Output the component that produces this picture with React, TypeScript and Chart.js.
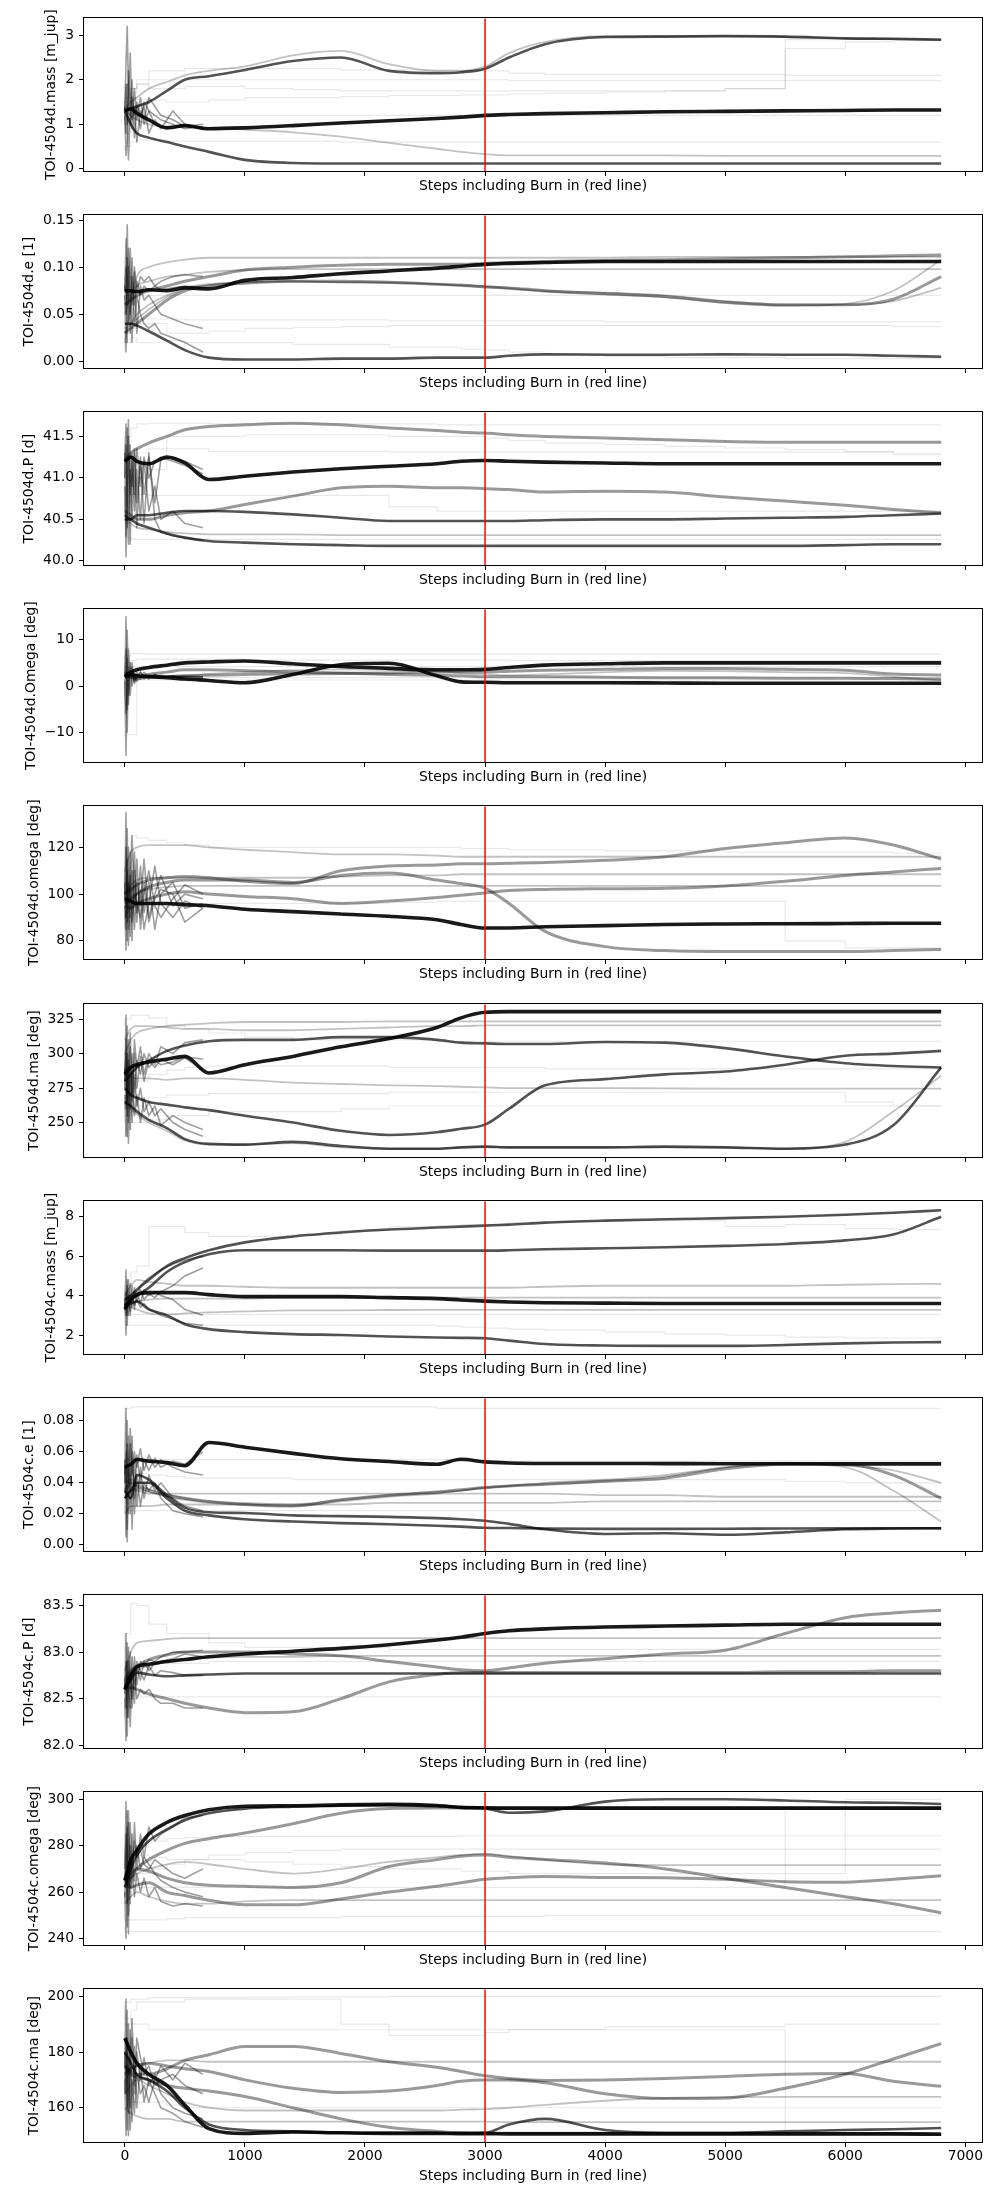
import React, { useEffect, useRef } from "react";
import { Chart, registerables } from "chart.js";

Chart.register(...registerables);

const FONT = "'DejaVu Sans', sans-serif";
const FS = 13.9;
Chart.defaults.font.family = FONT;
Chart.defaults.color = "#000";

// ---------- shared axes data ----------
const STEPS = [0, 50, 100, 200, 350, 500, 700, 1000, 1400, 1800, 2200, 2600, 2800, 3000, 3200, 3500, 4000, 4500, 5000, 5500, 6000, 6400, 6799];
const EARLY_STEPS = [0, 10, 20, 30, 45, 60, 80, 100, 130, 160, 200, 250, 300, 400, 500, 650];
const BURN_IN = 3000;
const X_TICKS = [0, 1000, 2000, 3000, 4000, 5000, 6000, 7000];
const X_MIN = -340;
const X_MAX = 7139;
const X_LABEL = "Steps including Burn in (red line)";

// ---------- panel 1: TOI-4504d.mass ----------
const D_MASS_TICKS = [0, 1, 2, 3];
const D_MASS_CORE = [1.3, 1.35, 1.25, 1.1, 0.92, 0.97, 0.9, 0.92, 0.97, 1.03, 1.08, 1.13, 1.16, 1.2, 1.22, 1.24, 1.26, 1.28, 1.29, 1.3, 1.31, 1.32, 1.32];
const D_MASS_UP1 = [1.3, 1.35, 1.4, 1.5, 1.75, 2.0, 2.08, 2.22, 2.42, 2.5, 2.2, 2.15, 2.17, 2.25, 2.5, 2.8, 2.96, 2.97, 2.98, 2.97, 2.93, 2.92, 2.9];
const D_MASS_UP2 = [1.3, 1.5, 1.6, 1.8, 1.95, 2.1, 2.2, 2.3, 2.55, 2.65, 2.35, 2.2, 2.2, 2.3, 2.6, 2.85, 2.98, 2.98, 2.98, 2.96, 2.93, 2.91, 2.9];
const D_MASS_DESC = [1.3, 1.2, 1.1, 1.0, 0.95, 0.95, 0.92, 0.88, 0.82, 0.72, 0.58, 0.45, 0.38, 0.33, 0.3, 0.3, 0.3, 0.3, 0.29, 0.29, 0.29, 0.29, 0.29];
const D_MASS_LOW = [1.3, 1.0, 0.8, 0.7, 0.6, 0.5, 0.38, 0.2, 0.13, 0.12, 0.12, 0.12, 0.12, 0.12, 0.12, 0.12, 0.12, 0.12, 0.12, 0.12, 0.12, 0.12, 0.12];
const D_MASS_F1 = [1.0, 1.5, 1.7, 1.9, 2.0, 2.0, 2.0, 2.0, 2.0, 2.0, 2.0, 2.0, 2.0, 2.0, 2.0, 1.98, 1.98, 1.98, 1.98, 1.98, 1.98, 1.98, 1.98];
const D_MASS_F2 = [1.5, 1.6, 1.6, 1.55, 1.55, 1.5, 1.5, 1.55, 1.6, 1.6, 1.62, 1.65, 1.65, 1.66, 1.66, 1.68, 1.7, 1.72, 1.75, 1.8, 2.9, 2.92, 2.92];
const D_MASS_F3 = [1.0, 1.3, 1.8, 2.0, 2.2, 2.2, 2.25, 2.25, 2.25, 2.25, 2.22, 2.22, 2.22, 2.2, 2.2, 2.15, 2.12, 2.12, 2.12, 2.12, 2.1, 2.1, 2.1];
const D_MASS_F4 = [0.4, 0.5, 0.6, 0.65, 0.65, 0.62, 0.62, 0.62, 0.62, 0.62, 0.6, 0.6, 0.6, 0.6, 0.6, 0.6, 0.6, 0.6, 0.6, 0.6, 0.6, 0.6, 0.6];
const D_MASS_F5 = [1.3, 1.1, 1.25, 1.2, 1.2, 1.2, 1.2, 1.2, 1.2, 1.2, 1.2, 1.2, 1.2, 1.2, 1.2, 1.2, 1.2, 1.2, 1.2, 1.2, 1.2, 1.2, 1.2];
const D_MASS_F6 = [0.8, 1.4, 1.8, 1.9, 1.8, 1.8, 1.85, 1.85, 1.8, 1.78, 1.75, 1.75, 1.75, 1.75, 1.75, 1.75, 1.75, 1.75, 1.75, 1.8, 2.7, 2.85, 2.88];
const D_MASS_N1 = [1.3, 2.4, 3.2, 1.8, 1.0, 1.6, 1.2, 1.4, 0.9, 1.5, 1.3, 1.0, 0.95, 0.9, 1.0, 0.9];
const D_MASS_N2 = [1.2, 0.3, 0.6, 2.2, 1.5, 0.9, 1.8, 1.1, 1.6, 1.0, 1.3, 1.2, 1.1, 1.0, 0.9, 0.95];
const D_MASS_N3 = [1.4, 0.8, 1.9, 0.2, 1.2, 2.0, 0.7, 1.5, 1.2, 1.4, 0.8, 1.1, 0.9, 1.3, 1.0, 0.9];
const D_MASS_N4 = [1.3, 1.9, 1.0, 1.5, 2.6, 1.1, 1.4, 0.6, 1.3, 1.1, 1.6, 1.4, 1.2, 1.1, 0.95, 1.0];

// ---------- panel 2: TOI-4504d.e ----------
const D_E_TICKS = [0, 0.05, 0.1, 0.15];
const D_E_CORE = [0.075, 0.075, 0.074, 0.076, 0.075, 0.078, 0.077, 0.086, 0.089, 0.093, 0.096, 0.099, 0.101, 0.103, 0.104, 0.105, 0.106, 0.106, 0.106, 0.106, 0.106, 0.106, 0.106];
const D_E_UP = [0.06, 0.065, 0.07, 0.075, 0.08, 0.085, 0.09, 0.097, 0.1, 0.102, 0.103, 0.103, 0.103, 0.104, 0.105, 0.106, 0.107, 0.108, 0.109, 0.11, 0.111, 0.112, 0.113];
const D_E_MID = [0.03, 0.035, 0.04, 0.05, 0.065, 0.075, 0.08, 0.083, 0.085, 0.085, 0.084, 0.082, 0.081, 0.079, 0.078, 0.075, 0.072, 0.069, 0.063, 0.06, 0.06, 0.066, 0.09];
const D_E_MID2 = [0.035, 0.04, 0.045, 0.055, 0.068, 0.077, 0.081, 0.084, 0.085, 0.084, 0.083, 0.082, 0.08, 0.079, 0.077, 0.074, 0.071, 0.068, 0.062, 0.059, 0.061, 0.075, 0.108];
const D_E_MID3 = [0.03, 0.04, 0.05, 0.06, 0.07, 0.078, 0.082, 0.084, 0.085, 0.084, 0.084, 0.082, 0.081, 0.08, 0.078, 0.075, 0.073, 0.07, 0.064, 0.06, 0.06, 0.064, 0.078];
const D_E_BOT = [0.04, 0.04, 0.038, 0.032, 0.022, 0.012, 0.004, 0.002, 0.002, 0.003, 0.003, 0.004, 0.004, 0.004, 0.006, 0.0075, 0.007, 0.007, 0.0075, 0.007, 0.007, 0.006, 0.005];
const D_E_F1 = [0.02, 0.06, 0.09, 0.1, 0.105, 0.108, 0.11, 0.11, 0.11, 0.11, 0.11, 0.11, 0.11, 0.11, 0.11, 0.11, 0.11, 0.111, 0.111, 0.111, 0.111, 0.111, 0.111];
const D_E_F2 = [0.05, 0.07, 0.08, 0.085, 0.09, 0.092, 0.095, 0.097, 0.098, 0.098, 0.098, 0.098, 0.098, 0.098, 0.098, 0.098, 0.098, 0.098, 0.098, 0.098, 0.098, 0.098, 0.098];
const D_E_F3 = [0.06, 0.07, 0.068, 0.07, 0.07, 0.07, 0.07, 0.07, 0.07, 0.07, 0.07, 0.07, 0.07, 0.07, 0.07, 0.07, 0.07, 0.07, 0.07, 0.07, 0.07, 0.07, 0.07];
const D_E_F4 = [0.03, 0.035, 0.04, 0.045, 0.045, 0.045, 0.044, 0.044, 0.044, 0.044, 0.044, 0.043, 0.043, 0.043, 0.043, 0.043, 0.043, 0.042, 0.042, 0.042, 0.042, 0.042, 0.042];
const D_E_F5 = [0.02, 0.03, 0.035, 0.04, 0.04, 0.03, 0.03, 0.032, 0.035, 0.036, 0.037, 0.038, 0.038, 0.038, 0.038, 0.038, 0.038, 0.038, 0.038, 0.038, 0.038, 0.038, 0.037];
const D_E_F6 = [0.01, 0.02, 0.025, 0.02, 0.02, 0.022, 0.02, 0.02, 0.02, 0.018, 0.018, 0.015, 0.015, 0.013, 0.012, 0.01, 0.008, 0.005, 0.004, 0.004, 0.003, 0.003, 0.003];
const D_E_N1 = [0.075, 0.13, 0.02, 0.1, 0.05, 0.09, 0.06, 0.085, 0.07, 0.08, 0.075, 0.08, 0.076, 0.078, 0.08, 0.078];
const D_E_N2 = [0.07, 0.01, 0.11, 0.04, 0.12, 0.06, 0.095, 0.03, 0.08, 0.065, 0.07, 0.06, 0.05, 0.045, 0.04, 0.035];
const D_E_N3 = [0.08, 0.05, 0.145, 0.07, 0.03, 0.11, 0.04, 0.07, 0.05, 0.04, 0.035, 0.04, 0.03, 0.025, 0.02, 0.01];
const D_E_N4 = [0.075, 0.1, 0.06, 0.12, 0.08, 0.02, 0.1, 0.075, 0.09, 0.085, 0.09, 0.08, 0.085, 0.09, 0.092, 0.09];

// ---------- panel 3: TOI-4504d.P ----------
const D_P_TICKS = [40.0, 40.5, 41.0, 41.5];
const D_P_CORE = [41.2, 41.25, 41.2, 41.17, 41.25, 41.18, 40.98, 41.02, 41.07, 41.11, 41.14, 41.17, 41.2, 41.21, 41.2, 41.19, 41.18, 41.17, 41.17, 41.17, 41.17, 41.17, 41.17];
const D_P_UP = [41.2, 41.3, 41.35, 41.42, 41.5, 41.58, 41.62, 41.64, 41.66, 41.64, 41.6, 41.57, 41.55, 41.54, 41.52, 41.5, 41.48, 41.46, 41.44, 41.43, 41.43, 41.43, 41.43];
const D_P_MID = [40.6, 40.55, 40.5, 40.5, 40.55, 40.58, 40.6, 40.68, 40.78, 40.88, 40.9, 40.88, 40.88, 40.87, 40.86, 40.83, 40.84, 40.83, 40.77, 40.72, 40.67, 40.62, 40.58];
const D_P_LOW = [40.5, 40.5, 40.55, 40.55, 40.58, 40.6, 40.6, 40.59, 40.56, 40.52, 40.48, 40.48, 40.48, 40.48, 40.48, 40.49, 40.5, 40.5, 40.51, 40.52, 40.53, 40.55, 40.57];
const D_P_BOT = [40.55, 40.5, 40.45, 40.4, 40.33, 40.28, 40.24, 40.22, 40.2, 40.19, 40.18, 40.18, 40.18, 40.18, 40.18, 40.18, 40.18, 40.18, 40.18, 40.18, 40.19, 40.2, 40.2];
const D_P_F1 = [41.0, 41.5, 41.6, 41.65, 41.66, 41.66, 41.66, 41.65, 41.65, 41.65, 41.65, 41.65, 41.64, 41.64, 41.64, 41.64, 41.64, 41.64, 41.64, 41.64, 41.64, 41.64, 41.64];
const D_P_F2 = [41.0, 41.2, 41.25, 41.3, 41.35, 41.35, 41.35, 41.32, 41.32, 41.32, 41.32, 41.31, 41.31, 41.31, 41.31, 41.31, 41.31, 41.31, 41.31, 41.31, 41.31, 41.31, 41.3];
const D_P_F3 = [40.6, 40.7, 40.8, 40.8, 40.79, 40.79, 40.79, 40.79, 40.79, 40.79, 40.79, 40.65, 40.6, 40.6, 40.6, 40.6, 40.6, 40.6, 40.6, 40.6, 40.6, 40.6, 40.6];
const D_P_F4 = [40.5, 40.45, 40.4, 40.38, 40.35, 40.33, 40.32, 40.32, 40.32, 40.31, 40.31, 40.31, 40.31, 40.31, 40.31, 40.31, 40.31, 40.31, 40.31, 40.31, 40.31, 40.31, 40.31];
const D_P_F5 = [40.3, 40.28, 40.26, 40.26, 40.26, 40.26, 40.26, 40.26, 40.26, 40.26, 40.26, 40.26, 40.26, 40.26, 40.26, 40.26, 40.26, 40.26, 40.26, 40.26, 40.26, 40.26, 40.26];
const D_P_F6 = [41.4, 41.0, 40.9, 41.0, 41.1, 41.5, 41.5, 41.5, 41.52, 41.52, 41.52, 41.5, 41.5, 41.5, 41.48, 41.45, 41.42, 41.4, 41.38, 41.36, 41.34, 41.32, 41.28];
const D_P_N1 = [41.2, 41.65, 40.4, 41.5, 40.8, 41.3, 40.6, 41.1, 40.5, 41.2, 40.6, 40.9, 40.5, 40.6, 40.45, 40.4];
const D_P_N2 = [40.9, 40.3, 41.6, 40.6, 41.4, 40.5, 41.3, 40.4, 41.25, 40.45, 41.3, 40.5, 40.35, 40.3, 40.28, 40.25];
const D_P_N3 = [41.3, 40.05, 41.0, 41.7, 40.2, 41.2, 40.8, 41.35, 40.9, 41.25, 41.0, 41.2, 41.25, 41.2, 41.15, 41.05];
const D_P_N4 = [41.0, 41.4, 40.7, 40.2, 41.1, 40.9, 41.35, 40.7, 41.2, 40.8, 41.25, 40.7, 41.22, 41.25, 41.2, 41.1];

// ---------- panel 4: TOI-4504d.Omega ----------
const D_OM_TICKS = [-10, 0, 10];
const D_OM_A = [2.0, 2.5, 2.2, 2.0, 1.8, 1.5, 1.2, 0.7, 2.5, 4.6, 4.9, 2.2, 0.9, 0.8, 0.7, 0.7, 0.7, 0.65, 0.6, 0.6, 0.6, 0.6, 0.6];
const D_OM_B = [2.0, 3.0, 3.5, 4.0, 4.5, 5.0, 5.2, 5.4, 4.8, 4.2, 3.8, 3.5, 3.5, 3.6, 4.0, 4.5, 4.8, 5.0, 5.0, 5.0, 5.0, 5.0, 5.0];
const D_OM_C = [3.0, 2.0, 1.5, 2.0, 2.0, 2.2, 2.3, 2.5, 2.6, 2.7, 2.8, 3.0, 3.0, 3.0, 3.2, 3.4, 3.6, 3.8, 3.8, 3.6, 3.4, 2.6, 2.4];
const D_OM_D = [2.5, 1.8, 2.0, 2.5, 3.0, 3.5, 3.5, 3.3, 3.0, 2.8, 2.5, 2.3, 2.2, 2.0, 2.0, 2.0, 1.9, 1.8, 1.8, 1.7, 1.7, 1.6, 1.5];
const D_OM_E = [3.0, 2.5, 2.3, 2.1, 2.2, 2.3, 2.6, 3.0, 3.4, 3.6, 3.5, 3.2, 2.8, 2.5, 2.3, 2.5, 3.0, 3.3, 3.2, 3.0, 2.8, 2.0, 1.2];
const D_OM_F1 = [6.0, 6.5, 7.0, 7.0, 6.9, 6.9, 6.9, 6.9, 6.9, 6.9, 6.9, 6.9, 6.9, 6.9, 6.9, 6.9, 6.9, 6.9, 6.9, 6.9, 6.9, 6.9, 6.9];
const D_OM_F2 = [-10.5, -10.5, -10.5, 2.0, 2.0, 2.0, 2.0, 1.8, 1.8, 1.8, 1.8, 1.8, 1.8, 1.8, 1.8, 1.8, 1.8, 1.8, 1.8, 1.8, 1.8, 1.8, 1.8];
const D_OM_F3 = [4.0, 5.0, 5.5, 5.8, 5.8, 5.8, 5.8, 5.8, 5.6, 5.6, 5.6, 5.6, 5.6, 5.6, 5.6, 5.5, 5.5, 5.5, 5.5, 5.5, 5.5, 5.5, 5.5];
const D_OM_F4 = [1.0, 1.2, 1.3, 1.3, 1.3, 1.3, 1.3, 1.3, 1.3, 1.3, 1.3, 1.3, 1.3, 1.3, 1.3, 1.3, 1.3, 1.3, 1.3, 1.3, 1.3, 1.3, 1.3];
const D_OM_F5 = [3.0, 4.2, 4.2, 4.2, 4.2, 4.2, 4.2, 4.2, 4.2, 4.2, 4.2, 4.2, 4.2, 4.2, 4.2, 4.2, 4.2, 4.2, 4.2, 4.2, 4.2, 4.2, 4.2];
const D_OM_N1 = [0, 15, -5, 8, 2, 4, 1, 3, 2, 3, 2, 2.5, 2, 2.2, 2, 2];
const D_OM_N2 = [0, -15, 6, -4, 5, 0, 3, 1, 3, 1.5, 2.5, 2, 2.3, 2, 2.1, 2];
const D_OM_N3 = [2, 8, -10, 4, -2, 3, 1, 2.5, 1.5, 2.5, 2, 2.2, 2.1, 1.9, 2, 1.8];
const D_OM_N4 = [1, -6, 12, -2, 3, 5, 0.5, 2, 3, 2, 1.5, 2.5, 1.8, 2.2, 1.5, 1.6];

// ---------- panel 5: TOI-4504d.omega ----------
const D_W_TICKS = [80, 100, 120];
const D_W_CORE = [98, 97, 96, 96, 96, 95.5, 95, 93.5, 92.5, 91.5, 90.5, 89, 87, 85.5, 85.5, 86, 86.5, 87, 87.2, 87.3, 87.4, 87.5, 87.5];
const D_W_A = [100, 102, 104, 106, 107, 107.5, 107, 105.5, 104.5, 110, 112, 112.5, 113, 113, 113.2, 113.5, 114.5, 116, 119.5, 122, 124, 121, 115];
const D_W_B = [96, 98, 100, 103, 105, 106, 106, 106, 105, 108, 109, 106, 104.5, 102.5, 96, 84, 77.5, 75.8, 75.4, 75.4, 75.4, 75.8, 76.3];
const D_W_C = [95, 94, 96, 98, 100, 101, 100, 99, 98, 96, 97, 98.5, 99.5, 100.5, 101.5, 102, 102.3, 102.5, 103.5, 105.5, 108, 109.5, 111];
const D_W_F1 = [110, 118, 120, 121, 121, 121, 120, 119, 118, 117, 117, 116.5, 116, 116, 116, 116, 116, 116, 116, 116, 116, 116, 116];
const D_W_F2 = [100, 104, 106, 107, 107, 107, 107, 107, 107, 107.5, 108, 108, 108.5, 108.5, 108.5, 108.5, 108.5, 108.5, 108.5, 108.5, 108.5, 108.5, 108.5];
const D_W_F3 = [90, 95, 100, 102, 103, 103.5, 103.5, 103.5, 103.5, 103.5, 103.5, 103.5, 103.5, 103.5, 103.5, 103.5, 103.5, 103.5, 103.5, 103.5, 103.5, 103.5, 103.5];
const D_W_F4 = [85, 90, 92, 93, 94, 95, 96, 96, 96, 96, 96, 96.5, 97, 97, 97, 97, 97, 97, 97, 97, 80, 77, 77];
const D_W_F5 = [100, 110, 125, 124, 123, 122, 121, 120, 120, 120, 120, 120, 120, 119.5, 119.5, 119, 119, 118.5, 118.5, 118, 118, 118, 117.5];
const D_W_N1 = [100, 135, 80, 120, 90, 110, 85, 105, 95, 115, 90, 100, 108, 95, 100, 98];
const D_W_N2 = [95, 76, 128, 85, 118, 80, 110, 88, 112, 92, 105, 85, 100, 105, 94, 96];
const D_W_N3 = [105, 90, 110, 78, 100, 125, 95, 115, 85, 100, 110, 95, 90, 98, 104, 100];
const D_W_N4 = [98, 120, 88, 105, 82, 95, 118, 92, 102, 85, 96, 112, 96, 90, 97, 94];
const D_W_N5 = [100, 85, 115, 95, 108, 88, 100, 96, 90, 105, 88, 98, 102, 100, 88, 94];

// ---------- panel 6: TOI-4504d.ma ----------
const D_MA_TICKS = [250, 275, 300, 325];
const D_MA_CORE = [285, 290, 292, 294, 296, 298, 286, 292, 298, 305, 311, 319, 326, 330, 330.5, 330.5, 330.5, 330.5, 330.5, 330.5, 330.5, 330.5, 330.5];
const D_MA_G1 = [280, 285, 290, 295, 302, 306, 309, 310, 310, 312, 312, 310, 308, 307.5, 307, 307, 308.5, 308, 304, 298, 293, 291, 290];
const D_MA_G2 = [275, 270, 268, 265, 263, 261, 259, 255, 250, 244, 241, 243, 245.5, 248.5, 260, 277, 281.5, 285, 287, 292, 298.5, 300, 302];
const D_MA_G3 = [265, 262, 258, 252, 246, 238, 234.5, 234, 236, 233, 231, 231, 232, 232.5, 232, 232, 232, 232.5, 232, 231, 234, 248, 290];
const D_MA_G3B = [265, 260, 256, 250, 244, 237, 234, 234, 235, 232, 231, 231, 232, 232.5, 232, 232, 232, 232, 232, 231, 236, 258, 284];
const D_MA_G4 = [285, 283, 282, 282, 281, 282, 282, 281, 279, 278, 277, 276.5, 276, 275.5, 275, 275, 275, 274.8, 274.6, 274.6, 274.6, 274.6, 274.6];
const D_MA_F1 = [300, 310, 315, 318, 320, 321, 322, 323, 323, 323, 323.5, 323.5, 323.5, 323.5, 323.5, 323.5, 323.5, 323.5, 323.5, 323.5, 323.5, 323.5, 323.5];
const D_MA_F2 = [310, 318, 320, 320, 319, 318, 318, 317, 317, 318, 319, 320, 320, 320.5, 320.5, 320.5, 320.5, 320.5, 320.5, 320.5, 320.5, 320.5, 320.5];
const D_MA_F3 = [260, 270, 275, 280, 285, 288, 290, 291, 291, 291, 291, 290, 290, 290, 290, 290, 289, 289, 289, 289, 289, 289, 289];
const D_MA_F4 = [250, 255, 258, 262, 268, 270, 270, 271, 271, 271, 271, 272, 272, 272, 272, 272, 272, 272, 272, 272, 272, 265, 262];
const D_MA_F5 = [240, 245, 250, 250, 252, 255, 255, 258, 258, 258, 260, 262, 262, 262, 262, 262, 262, 262, 262, 262, 262, 262, 262];
const D_MA_F6 = [320, 325, 328, 328, 326, 320, 318, 315, 312, 310, 310, 310, 309, 309, 309, 309, 309, 309, 309, 309, 309, 309, 309];
const D_MA_N1 = [280, 328, 240, 310, 260, 300, 270, 295, 285, 300, 290, 295, 292, 294, 298, 296];
const D_MA_N2 = [270, 240, 320, 250, 305, 265, 300, 275, 298, 280, 295, 290, 296, 292, 297, 288];
const D_MA_N3 = [290, 260, 300, 235, 290, 250, 285, 262, 275, 258, 265, 255, 260, 250, 245, 240];
const D_MA_N4 = [275, 310, 265, 295, 245, 285, 255, 270, 250, 268, 255, 262, 248, 255, 250, 245];
const D_MA_N5 = [285, 300, 255, 280, 315, 270, 310, 290, 305, 285, 300, 292, 305, 300, 308, 310];

// ---------- panel 7: TOI-4504c.mass ----------
const C_MASS_TICKS = [2, 4, 6, 8];
const C_MASS_CORE = [3.3, 3.8, 4.05, 4.15, 4.15, 4.15, 4.05, 3.95, 3.95, 3.95, 3.9, 3.85, 3.78, 3.72, 3.68, 3.64, 3.62, 3.6, 3.6, 3.6, 3.6, 3.6, 3.6];
const C_MASS_TOP = [3.8, 4.0, 4.3, 4.8, 5.5, 5.9, 6.3, 6.7, 7.0, 7.2, 7.35, 7.45, 7.5, 7.55, 7.6, 7.7, 7.8, 7.87, 7.93, 8.0, 8.1, 8.2, 8.33];
const C_MASS_SEC = [3.5, 3.8, 4.0, 4.4, 5.2, 5.7, 6.1, 6.3, 6.3, 6.3, 6.28, 6.28, 6.28, 6.28, 6.3, 6.35, 6.4, 6.45, 6.52, 6.62, 6.8, 7.1, 8.0];
const C_MASS_BOT = [3.5, 3.6, 3.7, 3.3, 3.0, 2.55, 2.3, 2.15, 2.05, 2.0, 1.93, 1.88, 1.86, 1.84, 1.72, 1.55, 1.47, 1.45, 1.45, 1.5, 1.58, 1.62, 1.64];
const C_MASS_G1 = [3.5, 3.4, 3.3, 3.1, 3.05, 3.1, 3.15, 3.2, 3.25, 3.25, 3.27, 3.28, 3.28, 3.28, 3.28, 3.28, 3.28, 3.28, 3.28, 3.28, 3.28, 3.28, 3.28];
const C_MASS_F1 = [4.0, 4.5, 4.8, 4.7, 4.6, 4.5, 4.5, 4.45, 4.4, 4.4, 4.4, 4.4, 4.4, 4.4, 4.4, 4.45, 4.5, 4.5, 4.5, 4.5, 4.55, 4.58, 4.6];
const C_MASS_F2 = [3.5, 3.6, 3.7, 3.8, 3.85, 3.85, 3.85, 3.85, 3.9, 3.9, 3.9, 3.9, 3.9, 3.9, 3.9, 3.9, 3.9, 3.9, 3.9, 3.9, 3.9, 3.9, 3.9];
const C_MASS_F3 = [2.7, 2.5, 2.5, 2.5, 2.5, 2.5, 2.5, 2.5, 2.5, 2.5, 2.5, 2.5, 2.45, 2.4, 2.35, 2.3, 2.25, 2.15, 2.05, 2.0, 1.9, 1.85, 1.85];
const C_MASS_F4 = [3.5, 4.5, 5.2, 5.5, 7.5, 7.5, 7.2, 7.0, 7.0, 7.1, 7.3, 7.5, 7.55, 7.6, 7.6, 7.7, 7.75, 7.8, 7.8, 7.5, 7.6, 7.4, 7.35];
const C_MASS_F5 = [3.2, 3.1, 3.05, 3.05, 3.05, 3.05, 3.05, 3.05, 3.05, 3.05, 3.05, 3.05, 3.05, 3.05, 3.05, 3.05, 3.05, 3.05, 3.05, 3.05, 3.05, 3.05, 3.05];
const C_MASS_N1 = [3.5, 5.3, 2.5, 4.8, 3.0, 4.5, 3.3, 4.2, 3.6, 4.3, 4.0, 4.2, 4.0, 3.8, 3.3, 3.0];
const C_MASS_N2 = [3.8, 2.0, 4.5, 3.0, 4.6, 3.4, 4.4, 3.7, 4.3, 3.8, 4.1, 3.9, 4.2, 4.5, 5.0, 5.4];
const C_MASS_N3 = [3.3, 4.2, 3.0, 4.0, 3.2, 3.9, 3.5, 3.8, 3.4, 3.6, 3.3, 3.2, 3.0, 2.8, 2.6, 2.5];
const C_MASS_N4 = [3.6, 3.0, 4.8, 3.5, 4.0, 3.7, 4.2, 4.0, 4.5, 4.7, 4.9, 5.1, 5.3, 5.6, 5.8, 6.0];

// ---------- panel 8: TOI-4504c.e ----------
const C_E_TICKS = [0, 0.02, 0.04, 0.06, 0.08];
const C_E_CORE = [0.05, 0.052, 0.055, 0.054, 0.053, 0.051, 0.066, 0.063, 0.059, 0.0555, 0.0537, 0.052, 0.0552, 0.0535, 0.0528, 0.0525, 0.0525, 0.0524, 0.0523, 0.0523, 0.0522, 0.0522, 0.0522];
const C_E_M = [0.035, 0.04, 0.038, 0.035, 0.032, 0.03, 0.028, 0.026, 0.025, 0.029, 0.032, 0.034, 0.0355, 0.037, 0.038, 0.039, 0.041, 0.043, 0.049, 0.052, 0.052, 0.045, 0.03];
const C_E_M2 = [0.03, 0.035, 0.036, 0.034, 0.031, 0.029, 0.027, 0.026, 0.025, 0.028, 0.031, 0.033, 0.035, 0.0365, 0.038, 0.039, 0.041, 0.044, 0.05, 0.053, 0.051, 0.048, 0.04];
const C_E_M3 = [0.04, 0.042, 0.04, 0.036, 0.033, 0.03, 0.028, 0.027, 0.026, 0.029, 0.032, 0.034, 0.035, 0.037, 0.038, 0.04, 0.042, 0.045, 0.05, 0.052, 0.05, 0.035, 0.015];
const C_E_L1 = [0.03, 0.035, 0.04, 0.04, 0.03, 0.022, 0.019, 0.0165, 0.015, 0.014, 0.0133, 0.0123, 0.0117, 0.011, 0.0108, 0.0105, 0.0103, 0.0103, 0.0104, 0.0105, 0.0106, 0.0107, 0.0107];
const C_E_L2 = [0.035, 0.03, 0.045, 0.042, 0.032, 0.024, 0.021, 0.0205, 0.019, 0.0185, 0.018, 0.0172, 0.0165, 0.0155, 0.0135, 0.01, 0.007, 0.0075, 0.0065, 0.008, 0.01, 0.0105, 0.0107];
const C_E_F1 = [0.06, 0.088, 0.089, 0.089, 0.089, 0.089, 0.089, 0.089, 0.089, 0.089, 0.089, 0.089, 0.088, 0.088, 0.088, 0.088, 0.088, 0.088, 0.088, 0.088, 0.088, 0.088, 0.088];
const C_E_F2 = [0.02, 0.025, 0.025, 0.025, 0.026, 0.026, 0.026, 0.026, 0.026, 0.026, 0.027, 0.027, 0.027, 0.027, 0.027, 0.027, 0.028, 0.028, 0.028, 0.028, 0.028, 0.028, 0.028];
const C_E_F3 = [0.03, 0.035, 0.035, 0.033, 0.033, 0.033, 0.033, 0.033, 0.033, 0.033, 0.033, 0.033, 0.033, 0.033, 0.033, 0.033, 0.032, 0.032, 0.031, 0.031, 0.031, 0.031, 0.031];
const C_E_F4 = [0.05, 0.055, 0.056, 0.056, 0.055, 0.055, 0.055, 0.055, 0.055, 0.055, 0.055, 0.055, 0.055, 0.054, 0.054, 0.054, 0.054, 0.054, 0.054, 0.054, 0.054, 0.054, 0.054];
const C_E_F5 = [0.025, 0.022, 0.022, 0.022, 0.022, 0.022, 0.022, 0.022, 0.022, 0.022, 0.022, 0.022, 0.022, 0.022, 0.022, 0.022, 0.022, 0.022, 0.022, 0.022, 0.022, 0.022, 0.022];
const C_E_F6 = [0.04, 0.045, 0.048, 0.046, 0.045, 0.044, 0.043, 0.043, 0.043, 0.042, 0.042, 0.042, 0.042, 0.042, 0.042, 0.042, 0.042, 0.042, 0.042, 0.042, 0.041, 0.04, 0.04];
const C_E_N1 = [0.045, 0.088, 0.01, 0.07, 0.02, 0.06, 0.03, 0.058, 0.04, 0.055, 0.048, 0.056, 0.05, 0.054, 0.052, 0.06];
const C_E_N2 = [0.05, 0.005, 0.08, 0.02, 0.065, 0.01, 0.055, 0.025, 0.05, 0.03, 0.045, 0.035, 0.04, 0.03, 0.025, 0.022];
const C_E_N3 = [0.04, 0.06, 0.002, 0.05, 0.035, 0.07, 0.02, 0.045, 0.025, 0.04, 0.035, 0.04, 0.03, 0.022, 0.02, 0.018];
const C_E_N4 = [0.055, 0.03, 0.065, 0.04, 0.075, 0.045, 0.06, 0.05, 0.062, 0.048, 0.058, 0.05, 0.055, 0.05, 0.047, 0.045];

// ---------- panel 9: TOI-4504c.P ----------
const C_P_TICKS = [82.0, 82.5, 83.0, 83.5];
const C_P_CORE = [82.6, 82.75, 82.84, 82.87, 82.9, 82.92, 82.95, 82.98, 83.01, 83.04, 83.08, 83.13, 83.16, 83.2, 83.23, 83.25, 83.27, 83.28, 83.29, 83.3, 83.3, 83.3, 83.3];
const C_P_U = [82.7, 82.8, 82.85, 82.92, 82.97, 83.0, 83.0, 83.0, 82.98, 82.96, 82.9, 82.84, 82.81, 82.8, 82.83, 82.88, 82.93, 82.98, 83.02, 83.2, 83.37, 83.42, 83.45];
const C_P_LM = [82.6, 82.62, 82.6, 82.55, 82.5, 82.45, 82.4, 82.35, 82.36, 82.5, 82.68, 82.76, 82.78, 82.78, 82.78, 82.78, 82.78, 82.78, 82.78, 82.79, 82.79, 82.8, 82.8];
const C_P_D = [82.6, 82.7, 82.78, 82.76, 82.74, 82.75, 82.76, 82.77, 82.77, 82.77, 82.77, 82.77, 82.77, 82.77, 82.77, 82.77, 82.77, 82.77, 82.77, 82.77, 82.77, 82.77, 82.77];
const C_P_F1 = [82.8, 83.0, 83.1, 83.12, 83.14, 83.15, 83.15, 83.15, 83.15, 83.15, 83.15, 83.15, 83.15, 83.15, 83.15, 83.15, 83.15, 83.15, 83.15, 83.15, 83.15, 83.15, 83.15];
const C_P_F2 = [82.5, 82.7, 82.8, 82.85, 82.9, 82.92, 82.94, 82.95, 82.95, 82.96, 82.96, 82.96, 82.96, 82.96, 82.96, 82.96, 82.96, 82.96, 82.96, 82.96, 82.96, 82.96, 82.96];
const C_P_F3 = [82.3, 82.5, 82.5, 82.52, 82.52, 82.52, 82.52, 82.52, 82.52, 82.52, 82.52, 82.52, 82.52, 82.52, 82.52, 82.52, 82.52, 82.52, 82.52, 82.52, 82.52, 82.52, 82.52];
const C_P_F4 = [83.0, 83.2, 83.52, 83.5, 83.3, 83.2, 83.2, 83.1, 83.05, 83.05, 83.05, 83.03, 83.03, 83.03, 83.03, 83.03, 83.03, 83.03, 83.03, 83.03, 83.03, 83.03, 83.03];
const C_P_F5 = [82.4, 82.6, 82.7, 82.85, 82.88, 82.88, 82.88, 82.9, 82.9, 82.9, 82.9, 82.9, 82.9, 82.9, 82.9, 82.9, 82.9, 82.9, 82.9, 82.9, 82.9, 82.9, 82.9];
const C_P_N1 = [82.6, 83.2, 82.1, 82.9, 82.4, 82.95, 82.6, 82.85, 82.7, 82.9, 82.8, 82.88, 82.9, 82.93, 82.98, 82.95];
const C_P_N2 = [82.5, 82.05, 82.9, 82.3, 83.0, 82.4, 82.8, 82.5, 82.6, 82.55, 82.6, 82.5, 82.45, 82.45, 82.4, 82.4];
const C_P_N3 = [82.7, 82.4, 83.1, 82.6, 82.2, 82.8, 82.45, 82.9, 82.8, 82.7, 82.85, 82.75, 82.8, 82.78, 82.75, 82.75];
const C_P_N4 = [82.55, 82.9, 82.3, 83.05, 82.7, 82.5, 82.95, 82.65, 82.9, 82.85, 82.92, 82.9, 82.95, 83.0, 83.0, 83.02];

// ---------- panel 10: TOI-4504c.omega ----------
const C_W_TICKS = [240, 260, 280, 300];
const C_W_CORE = [265, 274, 278, 285, 290, 293, 295.5, 297, 297.2, 297.6, 297.8, 297.3, 296.5, 296.3, 296.2, 296.2, 296.2, 296.2, 296.2, 296.2, 296.2, 296.2, 296.2];
const C_W_C2 = [262, 270, 276, 282, 287, 291, 294, 296, 296.8, 297.2, 297.5, 297, 296.5, 296, 294.2, 294.8, 299, 300, 300, 299.5, 298.7, 298.5, 298];
const C_W_G = [262, 266, 270, 274, 278, 281, 283, 285.5, 289.5, 294, 296, 296.2, 296.2, 296.2, 296.2, 296.2, 296.2, 296.2, 296.2, 296.2, 296.2, 296.2, 296.2];
const C_W_M1 = [265, 268, 270, 269, 266, 264, 263, 262.5, 262, 264, 271, 274, 275.5, 276, 275, 274, 272.5, 270, 266, 262, 258, 255, 251];
const C_W_L = [265, 262, 263, 264, 260, 258.5, 256.5, 254.5, 254.5, 257, 260, 262.5, 264, 265.5, 266.2, 266.7, 266.3, 266.2, 265.5, 264.5, 264.3, 265.5, 267];
const C_W_M2 = [265, 266, 268, 270, 272, 273, 272, 270, 268, 270, 273, 275, 276, 276.5, 275.5, 274, 272, 271.6, 271.6, 271.6, 271.6, 271.6, 271.6];
const C_W_G256 = [255, 258, 260, 258, 256, 255, 255, 256, 256.5, 256.5, 256.5, 256.5, 256.5, 256.5, 256.5, 256.5, 256.5, 256.5, 256.5, 256.5, 256.5, 256.5, 256.5];
const C_W_F1 = [270, 275, 278, 280, 282, 283, 283.5, 284, 284, 284, 284, 284, 284, 284.3, 284.3, 284.3, 284.3, 284.3, 284.3, 284.3, 284.3, 284.3, 284.3];
const C_W_F2 = [245, 243, 243, 243, 243, 243, 243, 243, 243, 243, 243, 243, 243, 243, 243, 243, 243, 243, 243, 243, 243, 243, 243];
const C_W_F3 = [260, 262, 265, 268, 270, 272, 274, 276, 277, 278, 278.5, 278.5, 278.5, 278.5, 278.5, 278.5, 278.5, 278.5, 278.5, 278.5, 278.5, 278.5, 278.5];
const C_W_F4 = [250, 248, 248, 248, 248, 248.5, 249, 249, 249, 249, 249.5, 249.5, 249.5, 249.5, 249.5, 249.5, 250, 250, 250, 250, 250, 250, 250];
const C_W_F5 = [255, 258, 260, 262, 262, 262, 262, 262, 262, 262, 262, 262, 262, 262, 262, 262, 262, 262, 262, 262, 296, 296, 296];
const C_W_F6 = [275, 280, 279, 276, 275, 274, 274, 274, 273, 272, 271, 270, 270, 269, 269, 268, 268, 268, 268, 268, 268, 300, 300];
const C_W_N1 = [270, 299, 245, 290, 255, 285, 265, 280, 270, 275, 272, 268, 265, 262, 260, 258];
const C_W_N2 = [260, 240, 295, 250, 280, 262, 290, 270, 285, 275, 288, 282, 285, 288, 292, 293];
const C_W_N3 = [265, 285, 255, 295, 262, 275, 258, 268, 260, 266, 258, 262, 256, 254, 255, 254];
const C_W_N4 = [258, 275, 288, 242, 290, 270, 282, 275, 278, 272, 270, 274, 272, 268, 266, 270];

// ---------- panel 11: TOI-4504c.ma ----------
const C_MA_TICKS = [160, 180, 200];
const C_MA_CORE = [185, 180, 176, 172, 168, 161, 152.5, 150.8, 151.3, 151, 150.8, 150.8, 150.7, 150.7, 150.6, 150.6, 150.6, 150.6, 150.6, 150.6, 150.6, 150.6, 150.5];
const C_MA_C2 = [180, 176, 172, 170, 166, 160, 154, 152, 151.5, 151, 151, 151, 150.9, 151, 154, 156, 152, 151, 151, 151.5, 152, 152.3, 152.7];
const C_MA_U = [175, 173, 172, 172, 174, 177, 179, 182, 182, 179.5, 176.5, 174.5, 173, 171.5, 170.5, 169.8, 170, 170.5, 171.2, 172, 172.3, 169.5, 167.7];
const C_MA_M = [172, 174, 175, 176, 175, 174, 173, 170, 167, 165.5, 166, 168, 169.5, 170, 170, 169, 165, 163.3, 163.5, 167, 172, 177.5, 183];
const C_MA_L1 = [175, 172, 171, 170, 168, 167, 166, 164, 160, 156, 153, 151.5, 151, 150.9, 150.8, 150.8, 150.8, 150.7, 150.7, 150.7, 150.7, 150.7, 150.6];
const C_MA_G1 = [170, 173, 175, 176, 177, 177, 176.5, 176.5, 176.5, 176.5, 176.5, 176.5, 176.5, 176.5, 176.5, 176.5, 176.5, 176.5, 176.5, 176.5, 176.5, 176.5, 176.5];
const C_MA_G2 = [165, 168, 170, 168, 165, 162, 160, 159, 159, 159, 159, 159, 159.3, 159.5, 160, 161, 162.5, 163.5, 163.8, 163.9, 163.9, 163.9, 163.9];
const C_MA_F1 = [190, 198, 199, 199, 199.5, 199.5, 199.5, 199.5, 199.7, 199.8, 199.8, 200, 200, 200, 200, 200, 200, 200, 200, 200, 200, 200, 200];
const C_MA_F2 = [180, 190, 195, 198, 198, 198, 199, 199, 199, 199, 190, 186, 186, 186, 187, 188, 188, 189, 189, 189, 190, 190, 190];
const C_MA_F3 = [160, 158, 157, 156, 156, 155, 155, 155, 155, 155, 155, 155, 155, 155, 154.8, 154.8, 154.8, 154.8, 154.8, 154.8, 154.8, 154.8, 154.8];
const C_MA_F4 = [195, 192, 190, 190, 188, 188, 188, 188, 188, 188, 188, 188, 188, 188, 188, 188, 188, 188, 188, 188, 152, 151, 151];
const C_MA_F5 = [165, 163, 162, 162, 162, 161, 160, 160, 160, 160, 160, 160, 160, 160, 160, 160, 160, 160, 160, 160, 160, 160, 160];
const C_MA_N1 = [175, 199, 152, 190, 160, 185, 165, 180, 170, 178, 168, 172, 165, 160, 158, 156];
const C_MA_N2 = [170, 150, 195, 158, 188, 155, 182, 160, 175, 162, 170, 165, 160, 158, 155, 153];
const C_MA_N3 = [180, 165, 185, 150, 178, 192, 168, 185, 178, 172, 175, 168, 170, 172, 168, 165];
const C_MA_N4 = [165, 185, 160, 178, 152, 170, 158, 172, 165, 168, 162, 170, 175, 170, 176, 172];

// ---------- styles & panel definitions ----------
type Style = "core" | "dark" | "gray" | "mid" | "noise" | "faint";
const STYLES: Record<Style, { color: string; width: number; stepped: boolean; smooth: boolean; rank: number }> = {
  core: { color: "rgba(0,0,0,0.9)", width: 3.6, stepped: false, smooth: true, rank: 0 },
  dark: { color: "rgba(0,0,0,0.68)", width: 2.6, stepped: false, smooth: true, rank: 1 },
  gray: { color: "rgba(0,0,0,0.4)", width: 3, stepped: false, smooth: true, rank: 2 },
  mid: { color: "rgba(0,0,0,0.24)", width: 1.8, stepped: false, smooth: true, rank: 3 },
  noise: { color: "rgba(0,0,0,0.38)", width: 1.6, stepped: false, smooth: false, rank: 4 },
  faint: { color: "rgba(0,0,0,0.09)", width: 1.2, stepped: true, smooth: false, rank: 5 },
};

type Trace = [number[], Style];
interface PanelDef {
  label: string;
  min: number;
  max: number;
  ticks: number[];
  dec: number;
  titlePad: number;
  traces: Trace[];
}

const PANELS: PanelDef[] = [
  {
    label: "TOI-4504d.mass [m_jup]", min: -0.05, max: 3.38, ticks: D_MASS_TICKS, dec: 0, titlePad: 43.5,
    traces: [
      [D_MASS_CORE, "core"], [D_MASS_UP1, "dark"], [D_MASS_UP2, "mid"], [D_MASS_DESC, "mid"], [D_MASS_LOW, "dark"],
      [D_MASS_F1, "faint"], [D_MASS_F2, "faint"], [D_MASS_F3, "faint"], [D_MASS_F4, "faint"], [D_MASS_F5, "faint"], [D_MASS_F6, "faint"],
      [D_MASS_N1, "noise"], [D_MASS_N2, "noise"], [D_MASS_N3, "noise"], [D_MASS_N4, "noise"],
    ],
  },
  {
    label: "TOI-4504d.e [1]", min: -0.007, max: 0.155, ticks: D_E_TICKS, dec: 2, titlePad: 21.5,
    traces: [
      [D_E_CORE, "core"], [D_E_UP, "gray"], [D_E_MID, "gray"], [D_E_MID2, "mid"], [D_E_MID3, "mid"], [D_E_BOT, "dark"],
      [D_E_F1, "mid"], [D_E_F2, "mid"], [D_E_F3, "faint"], [D_E_F4, "faint"], [D_E_F5, "faint"], [D_E_F6, "faint"],
      [D_E_N1, "noise"], [D_E_N2, "noise"], [D_E_N3, "noise"], [D_E_N4, "noise"],
    ],
  },
  {
    label: "TOI-4504d.P [d]", min: 39.95, max: 41.79, ticks: D_P_TICKS, dec: 1, titlePad: 21.5,
    traces: [
      [D_P_CORE, "core"], [D_P_UP, "gray"], [D_P_MID, "gray"], [D_P_LOW, "dark"], [D_P_BOT, "dark"],
      [D_P_F1, "faint"], [D_P_F2, "faint"], [D_P_F3, "faint"], [D_P_F4, "mid"], [D_P_F5, "faint"], [D_P_F6, "faint"],
      [D_P_N1, "noise"], [D_P_N2, "noise"], [D_P_N3, "noise"], [D_P_N4, "noise"],
    ],
  },
  {
    label: "TOI-4504d.Omega [deg]", min: -16.4, max: 16.55, ticks: D_OM_TICKS, dec: 0, titlePad: 23.1,
    traces: [
      [D_OM_A, "core"], [D_OM_B, "core"], [D_OM_C, "gray"], [D_OM_D, "gray"], [D_OM_E, "mid"],
      [D_OM_F1, "faint"], [D_OM_F2, "faint"], [D_OM_F3, "faint"], [D_OM_F4, "faint"], [D_OM_F5, "faint"],
      [D_OM_N1, "noise"], [D_OM_N2, "noise"], [D_OM_N3, "noise"], [D_OM_N4, "noise"],
    ],
  },
  {
    label: "TOI-4504d.omega [deg]", min: 72.2, max: 137.6, ticks: D_W_TICKS, dec: 0, titlePad: 25.9,
    traces: [
      [D_W_CORE, "core"], [D_W_A, "gray"], [D_W_B, "gray"], [D_W_C, "gray"],
      [D_W_F1, "mid"], [D_W_F2, "mid"], [D_W_F3, "mid"], [D_W_F4, "faint"], [D_W_F5, "faint"],
      [D_W_N1, "noise"], [D_W_N2, "noise"], [D_W_N3, "noise"], [D_W_N4, "noise"], [D_W_N5, "noise"],
    ],
  },
  {
    label: "TOI-4504d.ma [deg]", min: 225, max: 335.8, ticks: D_MA_TICKS, dec: 0, titlePad: 25.9,
    traces: [
      [D_MA_CORE, "core"], [D_MA_G1, "dark"], [D_MA_G2, "dark"], [D_MA_G3, "dark"], [D_MA_G3B, "mid"], [D_MA_G4, "mid"],
      [D_MA_F1, "mid"], [D_MA_F2, "mid"], [D_MA_F3, "faint"], [D_MA_F4, "faint"], [D_MA_F5, "faint"], [D_MA_F6, "faint"],
      [D_MA_N1, "noise"], [D_MA_N2, "noise"], [D_MA_N3, "noise"], [D_MA_N4, "noise"], [D_MA_N5, "noise"],
    ],
  },
  {
    label: "TOI-4504c.mass [m_jup]", min: 1.04, max: 8.78, ticks: C_MASS_TICKS, dec: 0, titlePad: 43.5,
    traces: [
      [C_MASS_CORE, "core"], [C_MASS_TOP, "dark"], [C_MASS_SEC, "dark"], [C_MASS_BOT, "dark"], [C_MASS_G1, "mid"],
      [C_MASS_F1, "mid"], [C_MASS_F2, "mid"], [C_MASS_F3, "faint"], [C_MASS_F4, "faint"], [C_MASS_F5, "faint"],
      [C_MASS_N1, "noise"], [C_MASS_N2, "noise"], [C_MASS_N3, "noise"], [C_MASS_N4, "noise"],
    ],
  },
  {
    label: "TOI-4504c.e [1]", min: -0.004, max: 0.0945, ticks: C_E_TICKS, dec: 2, titlePad: 21.5,
    traces: [
      [C_E_CORE, "core"], [C_E_M, "gray"], [C_E_M2, "mid"], [C_E_M3, "mid"], [C_E_L1, "dark"], [C_E_L2, "dark"],
      [C_E_F1, "faint"], [C_E_F2, "mid"], [C_E_F3, "mid"], [C_E_F4, "faint"], [C_E_F5, "faint"], [C_E_F6, "faint"],
      [C_E_N1, "noise"], [C_E_N2, "noise"], [C_E_N3, "noise"], [C_E_N4, "noise"],
    ],
  },
  {
    label: "TOI-4504c.P [d]", min: 81.97, max: 83.61, ticks: C_P_TICKS, dec: 1, titlePad: 21.5,
    traces: [
      [C_P_CORE, "core"], [C_P_U, "gray"], [C_P_LM, "gray"], [C_P_D, "dark"],
      [C_P_F1, "mid"], [C_P_F2, "mid"], [C_P_F3, "faint"], [C_P_F4, "faint"], [C_P_F5, "faint"],
      [C_P_N1, "noise"], [C_P_N2, "noise"], [C_P_N3, "noise"], [C_P_N4, "noise"],
    ],
  },
  {
    label: "TOI-4504c.omega [deg]", min: 237.2, max: 303, ticks: C_W_TICKS, dec: 0, titlePad: 25.9,
    traces: [
      [C_W_CORE, "core"], [C_W_C2, "dark"], [C_W_G, "gray"], [C_W_M1, "gray"], [C_W_L, "gray"], [C_W_M2, "mid"], [C_W_G256, "mid"],
      [C_W_F1, "faint"], [C_W_F2, "faint"], [C_W_F3, "faint"], [C_W_F4, "faint"], [C_W_F5, "faint"], [C_W_F6, "faint"],
      [C_W_N1, "noise"], [C_W_N2, "noise"], [C_W_N3, "noise"], [C_W_N4, "noise"],
    ],
  },
  {
    label: "TOI-4504c.ma [deg]", min: 147.7, max: 202.5, ticks: C_MA_TICKS, dec: 0, titlePad: 25.9,
    traces: [
      [C_MA_CORE, "core"], [C_MA_C2, "dark"], [C_MA_U, "gray"], [C_MA_M, "gray"], [C_MA_L1, "gray"], [C_MA_G1, "mid"], [C_MA_G2, "mid"],
      [C_MA_F1, "faint"], [C_MA_F2, "faint"], [C_MA_F3, "mid"], [C_MA_F4, "faint"], [C_MA_F5, "faint"],
      [C_MA_N1, "noise"], [C_MA_N2, "noise"], [C_MA_N3, "noise"], [C_MA_N4, "noise"],
    ],
  },
];

// ---------- layout ----------
const FIRST_TOP = 15;
const PANEL_PITCH = 197.1;
const PLOT_H = 156;
const PAD_TOP = 10;
const PLOT_LEFT = 84;
const PAD_RIGHT = 18;

const fmt = (v: number, d: number) => v.toFixed(d).replace("-", "\u2212");

const framePlugin = {
  id: "frame",
  afterDraw(chart: any) {
    const { ctx, chartArea: a } = chart;
    ctx.save();
    ctx.strokeStyle = "#000";
    ctx.lineWidth = 1;
    const l = Math.round(a.left) - 0.5;
    const t = Math.round(a.top) - 0.5;
    const r = Math.round(a.right) + 0.5;
    const b = Math.round(a.bottom) + 0.5;
    ctx.strokeRect(l, t, r - l, b - t);
    ctx.restore();
  },
};

function Panel({ def, top, last }: { def: PanelDef; top: number; last: boolean }) {
  const ref = useRef<HTMLCanvasElement>(null);
  const xh = last ? 43 : 24;
  const h = PAD_TOP + PLOT_H + xh;

  useEffect(() => {
    const canvas = ref.current;
    if (!canvas) return;
    const sorted = [...def.traces].sort((a, b) => STYLES[a[1]].rank - STYLES[b[1]].rank);
    const datasets: any[] = [
      {
        data: [{ x: BURN_IN, y: def.min }, { x: BURN_IN, y: def.max }],
        borderColor: "#ff0000",
        borderWidth: 1.5,
        pointRadius: 0,
        fill: false,
      },
    ];
    for (const [vals, st] of sorted) {
      const s = STYLES[st];
      const xs = st === "noise" ? EARLY_STEPS : STEPS;
      const n = Math.min(xs.length, vals.length);
      const pts = [];
      for (let i = 0; i < n; i++) pts.push({ x: xs[i], y: vals[i] });
      datasets.push({
        data: pts,
        borderColor: s.color,
        borderWidth: s.width,
        pointRadius: 0,
        fill: false,
        stepped: s.stepped ? "after" : false,
        cubicInterpolationMode: s.smooth ? "monotone" : "default",
        tension: 0,
        borderJoinStyle: "round",
        borderCapStyle: "butt",
      });
    }
    const tickFont = { family: FONT, size: FS };
    const chart = new Chart(canvas, {
      type: "line",
      data: { datasets },
      plugins: [framePlugin],
      options: {
        animation: false,
        responsive: false,
        maintainAspectRatio: false,
        events: [],
        layout: { padding: { left: 0, right: PAD_RIGHT, top: PAD_TOP, bottom: 0 } },
        plugins: { legend: { display: false }, tooltip: { enabled: false }, title: { display: false } },
        scales: {
          x: {
            type: "linear",
            min: X_MIN,
            max: X_MAX,
            afterBuildTicks: (s: any) => {
              s.ticks = X_TICKS.map((v) => ({ value: v }));
            },
            afterFit: (s: any) => {
              s.height = xh;
            },
            ticks: {
              autoSkip: false,
              maxRotation: 0,
              minRotation: 0,
              padding: 1,
              color: "#000",
              font: tickFont,
              callback: (v: any) => (last ? String(v) : ""),
            },
            grid: { drawOnChartArea: false, drawTicks: true, tickLength: 5, tickColor: "#000", tickWidth: 1 },
            border: { display: false },
            title: {
              display: true,
              text: X_LABEL,
              color: "#000",
              font: tickFont,
              padding: { top: 0, bottom: 0 },
            },
          },
          y: {
            type: "linear",
            min: def.min,
            max: def.max,
            afterBuildTicks: (s: any) => {
              s.ticks = def.ticks.map((v) => ({ value: v }));
            },
            afterFit: (s: any) => {
              s.width = PLOT_LEFT;
            },
            ticks: {
              autoSkip: false,
              padding: 5,
              color: "#000",
              font: tickFont,
              callback: (v: any) => fmt(Number(v), def.dec),
            },
            grid: { drawOnChartArea: false, drawTicks: true, tickLength: 5, tickColor: "#000", tickWidth: 1 },
            border: { display: false },
            title: {
              display: true,
              text: def.label,
              color: "#000",
              font: tickFont,
              padding: { top: def.titlePad, bottom: 0 },
            },
          },
        },
      } as any,
    });
    return () => chart.destroy();
  }, [def, last, xh]);

  return (
    <canvas
      ref={ref}
      width={1000}
      height={h}
      style={{ position: "absolute", left: 0, top: top - PAD_TOP, width: 1000, height: h, display: "block" }}
    />
  );
}

export default function App() {
  return (
    <div style={{ position: "absolute", left: 0, top: 0, width: 1000, height: 2200, background: "#fff" }}>
      {PANELS.map((p, i) => (
        <Panel key={i} def={p} top={Math.round(FIRST_TOP + i * PANEL_PITCH)} last={i === PANELS.length - 1} />
      ))}
    </div>
  );
}
